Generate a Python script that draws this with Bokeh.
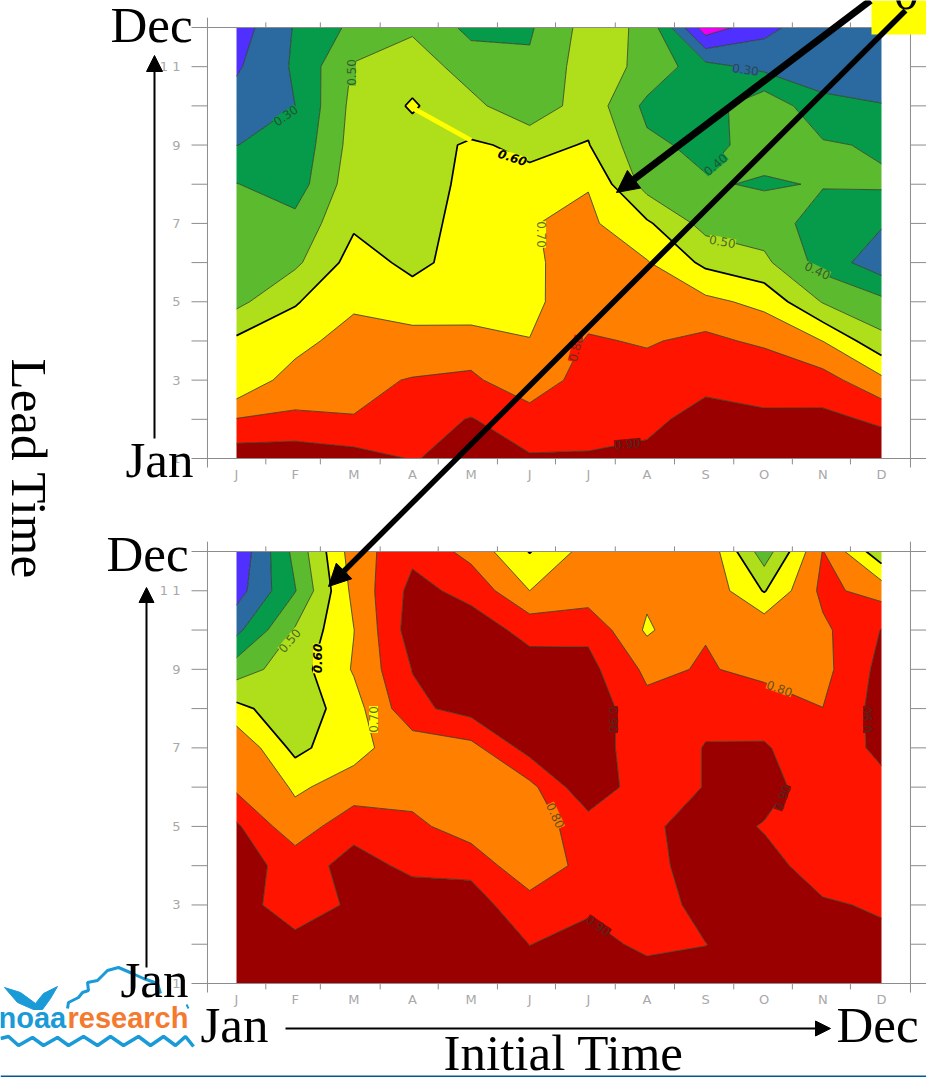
import numpy as np
from bokeh.core.properties import value
from bokeh.embed import file_html
from bokeh.models import Arrow, NormalHead, Range1d
from bokeh.plotting import figure
from bokeh.resources import INLINE

# ---- data: correlation skill by initial month (one list per month) and lead 1..12
months = [1, 2, 3, 4, 5, 6, 7, 8, 9, 10, 11, 12]
leads = [1, 2, 3, 4, 5, 6, 7, 8, 9, 10, 11, 12]
month_labels = ["J", "F", "M", "A", "M", "J", "J", "A", "S", "O", "N", "D"]
lead_labels = ["1", "3", "5", "7", "9", "1 1"]
lead_label_values = [1, 3, 5, 7, 9, 11]
minor_month_ticks = [1.5, 2.43, 3.45, 4.44, 5.45, 6.44, 7.46, 8.47, 9.48, 10.48, 11.47]
levels = [0.0, 0.1, 0.2, 0.3, 0.4, 0.5, 0.6, 0.7, 0.8, 0.9, 1.0]
level_colors = ["#f000f0", "#5030ff", "#2a6aa0", "#069a4b", "#5cba2e",
                "#aedf1a", "#ffff00", "#ff8000", "#ff1400", "#9a0000"]

upper_jan = [.96, .805, .603, .62, .473, .45, .43, .403, .299, .24, .187, .15]
upper_feb = [.968, .813, .759, .65, .593, .48, .43, .349, .325, .30, .314, .308]
upper_mar = [.94, .803, .78, .766, .67, .64, .586, .56, .54, .53, .51, .423]
upper_apr = [.895, .86, .805, .74, .64, .578, .56, .575, .56, .61, .56, .482]
upper_may = [.93, .905, .815, .755, .62, .638, .638, .613, .612, .53, .45, .375]
upper_jun = [.91, .84, .745, .702, .68, .687, .696, .625, .58, .42, .415, .388]
upper_jul = [.907, .87, .84, .81, .755, .735, .72, .695, .605, .563, .55, .54]
upper_aug = [.925, .873, .84, .791, .75, .707, .615, .459, .42, .375, .474, .482]
upper_sep = [.96, .94, .87, .824, .725, .577, .465, .41, .375, .35, .335, .041]
upper_oct = [.95, .904, .89, .78, .672, .522, .449, .39, .435, .479, .271, .171]
upper_nov = [.94, .924, .841, .699, .493, .36, .356, .406, .413, .32, .26, .265]
upper_dec = [.968, .883, .7235, .5275, .4264, .2377, .31, .4147, .3864, .305, .234, .25]

lower_jan = [.96, .95, .94, .93, .915, .78, .79, .628, .453, .274, .157, .12]
lower_feb = [.95, .929, .85, .873, .73, .69, .57, .533, .554, .51, .395, .43]
lower_mar = [.95, .93, .915, .92, .882, .727, .678, .66, .709, .698, .728, .751]
lower_apr = [.96, .95, .93, .888, .83, .75, .74, .876, .903, .95, .93, .876]
lower_may = [.97, .96, .93, .882, .738, .72, .768, .937, .955, .95, .87, .767]
lower_jun = [.93, .899, .855, .705, .75, .771, .94, .955, .943, .869, .70, .595]
lower_jul = [.94, .92, .89, .85, .85, .98, .96, .96, .93, .877, .742, .74]
lower_aug = [.93, .887, .87, .85, .88, .83, .83, .83, .779, .685, .722, .74]
lower_sep = [.92, .899, .92, .975, .945, .905, .905, .872, .808, .795, .775, .78]
lower_oct = [.93, .93, .93, .93, .893, .94, .91, .85, .775, .775, .593, .443]
lower_nov = [.94, .93, .91, .86, .85, .84, .83, .801, .77, .78, .825, .804]
lower_dec = [.94, .92, .89, .87, .86, .87, .925, .94, .93, .903, .7605, .528]

upper_table = [upper_jan, upper_feb, upper_mar, upper_apr, upper_may, upper_jun,
               upper_jul, upper_aug, upper_sep, upper_oct, upper_nov, upper_dec]
lower_table = [lower_jan, lower_feb, lower_mar, lower_apr, lower_may, lower_jun,
               lower_jul, lower_aug, lower_sep, lower_oct, lower_nov, lower_dec]

# thin yellow ridge seen between the little diamond and the main 0.60 area
ridge_month = [4.0, 5.0]
ridge_lead = [9.95, 9.12]

upper_contour_text = ["0.30", "0.50", "0.30", "0.40", "0.50", "0.40", "0.70", "0.80", "0.90"]
upper_text_x = [285, 351, 745, 715, 722, 817, 541, 575, 627]
upper_text_y = [115, 72, 69, 164, 241, 270, 234, 348, 443]
upper_text_a = [35, 90, -8, 40, -10, -25, -90, 75, 5]
upper_text_bg = ["#069a4b", "#5cba2e", "#2a6aa0", "#069a4b", "#aedf1a", "#5cba2e", "#ffff00", "#ff1400", "#9a0000"]

lower_contour_text = ["0.50", "0.70", "0.80", "0.90", "0.80", "0.90", "0.90", "0.90"]
lower_text_x = [289, 373, 779, 613, 555, 782, 598, 867]
lower_text_y = [640, 719, 688, 719, 815, 797, 925, 719]
lower_text_a = [50, 90, -20, -90, -65, 70, -35, 90]
lower_text_bg = ["#aedf1a", "#ffff00", "#ff8000", "#9a0000", "#ff8000", "#9a0000", "#9a0000", "#9a0000"]

caption_text = ["Dec", "Jan", "Dec", "Jan", "Jan", "Dec", "Initial Time"]
caption_x = [110, 125, 106, 120, 200, 836, 443]
caption_y = [43, 478, 572, 998, 1043, 1043, 1071]

# ---- figure: pixel-like canvas, with data ranges for months and leads
W, H = 926, 1077
SERIF = value("Liberation Serif")
SANS = value("DejaVu Sans")
GREY = "#8c8c8c"
BASE_SHIFT = 0.36   # the text glyph's alphabetic anchor sits this many em above the drawn baseline

p = figure(width=W, height=H, x_range=Range1d(0, W), y_range=Range1d(H, 0),
           toolbar_location=None, output_backend="svg", min_border=0,
           x_axis_location=None, y_axis_location=None, outline_line_color=None,
           margin=(0, 0, 0, 0), background_fill_color="white", border_fill_color="white")
p.xgrid.visible = False
p.ygrid.visible = False

mpx = 645 / 11
p.extra_x_ranges["month"] = Range1d(1 - 236 / mpx, 1 + (W - 236) / mpx)
upx = 431 / 11
p.extra_y_ranges["upper"] = Range1d(1 - (H - 458) / upx, 12 + 27 / upx)
lpx = 432 / 11
p.extra_y_ranges["lower"] = Range1d(1 - (H - 983) / lpx, 12 + 551 / lpx)

line_widths = [0.8] * len(levels)
line_widths[levels.index(0.6)] = 1.7
line_colors = ["#2a3a20"] * len(levels)
line_colors[levels.index(0.6)] = "#000000"

for name, table in (("upper", upper_table), ("lower", lower_table)):
    z = np.array(table).T
    cr = p.contour(months, leads, z, levels, fill_color=level_colors,
                   line_color=line_colors, line_width=line_widths)
    for r in (cr, cr.fill_renderer, cr.line_renderer):
        r.x_range_name = "month"
        r.y_range_name = name

    # axes
    kw = dict(x_range_name="month", y_range_name=name, line_color=GREY, line_width=1)
    p.segment(x0=[0.505, 12.494], x1=[0.505, 12.494], y0=[0.77, 0.77], y1=[12.25, 12.25], **kw)
    p.segment(x0=[0.233] * 12, x1=[0.505] * 12, y0=leads, y1=leads, **kw)
    p.segment(x0=[12.494] * 12, x1=[12.767] * 12, y0=leads, y1=leads, **kw)
    p.segment(x0=[0.505, 0.505], x1=[12.767, 12.767], y0=[1, 12], y1=[1, 12], **kw)
    p.segment(x0=minor_month_ticks, x1=minor_month_ticks, y0=[12] * 11, y1=[12.13] * 11, **kw)
    p.segment(x0=minor_month_ticks, x1=minor_month_ticks, y0=[1] * 11, y1=[0.85] * 11, **kw)

    tk = dict(x_range_name="month", y_range_name=name, text_font=SANS,
              text_font_size=value("13px"), text_color="#a8a8a8")
    p.text(x=[0.045] * len(lead_labels), y=lead_label_values, text=lead_labels,
           text_align="right", text_baseline="middle", **tk)
    p.text(x=months, y=[0.6] * 12, text=month_labels,
           text_align="center", text_baseline="middle", **tk)

p.line(ridge_month, ridge_lead, x_range_name="month", y_range_name="upper",
       line_color="#ffff00", line_width=5)

# contour labels
lab = dict(text_font=SANS, text_font_size=value("12px"), text_color="#2a3a2a", text_alpha=0.75,
           text_align="center", text_baseline="middle")
p.text(x=upper_text_x, y=upper_text_y, text=upper_contour_text,
       angle=list(np.radians(upper_text_a)), background_fill_color=upper_text_bg, **lab)
p.text(x=lower_text_x, y=lower_text_y, text=lower_contour_text,
       angle=list(np.radians(lower_text_a)), background_fill_color=lower_text_bg, **lab)
bold = dict(text_font=SANS, text_font_size=value("12px"), text_font_style="bold italic",
            text_color="black", text_align="center", text_baseline="middle")
p.text(x=[512], y=[157], text=["0.60"], angle=[np.radians(-18)], background_fill_color="#ffff00", **bold)
p.text(x=[317], y=[658], text=["0.60"], angle=[np.radians(90)], background_fill_color="#ffff00", **bold)

# logo
BLUE = "#1a9ad6"
p.patch([4, 20, 35, 43, 57, 50, 42, 33, 17], [987, 992, 1003, 993, 986, 998, 1009, 1009, 1002],
        fill_color=BLUE, line_color=BLUE)
p.line([67, 68, 78, 82, 88, 87, 97, 107, 118, 132, 143, 157, 160],
       [1008, 1002, 997, 992, 990, 982, 980, 970, 967, 973, 978, 983, 993],
       line_color=BLUE, line_width=3)
p.line([0, 8, 18, 32, 43, 57, 68, 83, 97, 110, 123, 138, 150, 163, 175, 185, 193],
       [1038, 1036, 1045, 1037, 1045, 1037, 1045, 1036, 1045, 1036, 1045, 1036, 1045, 1036, 1045, 1036, 1046],
       line_color=BLUE, line_width=3.5)
p.line([186, 188], [1004, 1008], line_color=BLUE, line_width=2)
logo = dict(text_font=value("Liberation Sans"), text_font_size=value("29px"),
            text_font_style="bold", text_baseline="alphabetic")
p.text(x=[-2], y=[1028 - BASE_SHIFT * 29], text=["noaa"], text_color=BLUE, **logo)
p.text(x=[67], y=[1028 - BASE_SHIFT * 29], text=["research"], text_color="#f47a30", **logo)
p.quad(left=[0], right=[W], top=[1075], bottom=[1077], fill_color="#005a96", line_color=None)

# yellow note box, big captions
p.quad(left=[871], right=[W], top=[0], bottom=[34], fill_color="#ffff00", line_color=None)
FS = 51
shift = BASE_SHIFT * FS
big = dict(text_font=SERIF, text_font_size=value(f"{FS}px"), text_color="black",
           text_baseline="alphabetic", text_align="left")
p.text(x=[893], y=[10 - shift], text=["0"], **big)
p.text(x=caption_x, y=[v - shift for v in caption_y], text=caption_text, **big)
p.text(x=[10 + shift], y=[358], text=["Lead Time"], angle=[-np.pi / 2], **big)

# arrows
thin = lambda s: NormalHead(size=s, fill_color="black", line_color="black", line_width=1)
p.add_layout(Arrow(end=thin(16), x_start=154, y_start=438, x_end=154, y_end=55, line_width=2))
p.add_layout(Arrow(end=thin(15), x_start=146, y_start=967, x_end=146, y_end=587, line_width=2))
p.add_layout(Arrow(end=thin(15), x_start=285, y_start=1028, x_end=830, y_end=1028, line_width=2))
p.add_layout(Arrow(end=thin(22), x_start=870, y_start=0, x_end=616, y_end=192, line_width=7))
p.add_layout(Arrow(end=thin(22), x_start=905, y_start=10, x_end=328, y_end=586, line_width=5.5))

open("out.html", "w").write(file_html(p, INLINE))
